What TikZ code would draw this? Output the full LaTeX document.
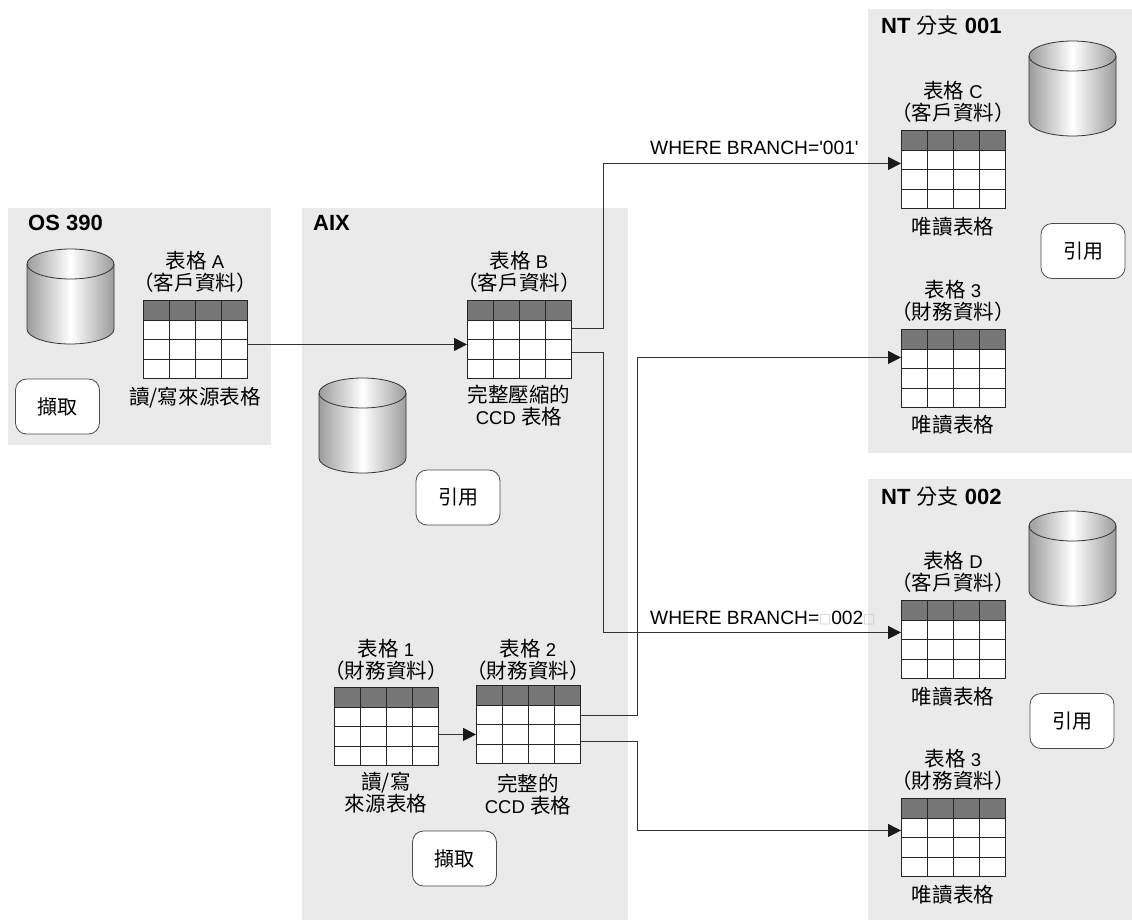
\documentclass[tikz,border=0pt]{standalone}
\usepackage{fontspec}
\setmainfont{Liberation Sans}
\newfontfamily\cjk[Scale=1.11]{Noto Sans CJK TC}
\usetikzlibrary{arrows.meta}

\definecolor{panelgray}{HTML}{EAEAEA}
\definecolor{headgray}{HTML}{777777}
\definecolor{cylgray}{HTML}{9C9C9C}

\tikzset{
    panel/.style={fill=panelgray, draw=none},
    paneltitle/.style={anchor=west, inner sep=0pt, font=\fontsize{22}{26}\selectfont\bfseries},
    tablebox/.style={draw=black!85, fill=white, line width=0.9pt, anchor=north west, minimum width=104pt, minimum height=78pt, inner sep=0pt},
    caption/.style={align=center, font=\fontsize{18.5}{28}\selectfont},
    toolbox/.style={draw=black!70, fill=white, rounded corners=11pt, line width=0.8pt, minimum width=84pt, minimum height=55pt, font=\fontsize{18}{24}\selectfont},
    conn/.style={-{Triangle[length=13pt,width=13pt,color=black!90]}, line width=1pt, black!80},
    wherelabel/.style={anchor=west, inner sep=0pt, font=\fontsize{19.2}{22}\selectfont}
}

% chu Han trong tieu de vung
\newcommand{\titlecjk}[1]{{\fontsize{19}{26}\selectfont\cjk\mdseries #1}}

% o vuong mo trong nhan
\newcommand{\gapmark}{\makebox[12pt]{\fontsize{11}{11}\selectfont\cjk\color{black!30}□}}

% bang du lieu: ten, x trai, y tren
\newcommand{\dbtable}[3]{
    \node[tablebox] (#1) at (#2,#3) {};
    \fill[headgray] (#2,#3) rectangle (#2+104,#3+20);
    \foreach \col in {26,52,78}
        \draw[black!85, line width=0.9pt] (#2+\col,#3) -- (#2+\col,#3+78);
    \foreach \row in {20,39.5,59}
        \draw[black!85, line width=0.9pt] (#2,#3+\row) -- (#2+104,#3+\row);
    \draw[black!85, line width=0.9pt] (#2,#3) rectangle (#2+104,#3+78);
}

% hinh tru: x trai, y tren
\newcommand{\dbdisk}[2]{
    \shade[left color=cylgray, right color=cylgray, middle color=white, draw=black!80, line width=0.8pt]
        (#1,#2+15) -- (#1,#2+80) arc[start angle=180, end angle=0, x radius=43.5, y radius=15]
        -- (#1+87,#2+15) arc[start angle=0, end angle=-180, x radius=43.5, y radius=15] -- cycle;
    \draw[black!80, line width=0.8pt] (#1,#2+15) arc[start angle=180, end angle=0, x radius=43.5, y radius=15];
}

\begin{document}
\begin{tikzpicture}[x=1pt, y=-1pt]
    \useasboundingbox (0,0) rectangle (1132,921);

    % 1. Cac vung nen
    \fill[panel] (8,208) rectangle (271,445);
    \fill[panel] (302,208) rectangle (628,920);
    \fill[panel] (868,9) rectangle (1132,453);
    \fill[panel] (868,479) rectangle (1132,920);

    \node[paneltitle] (osTitle) at (28,223) {OS 390};
    \node[paneltitle] (aixTitle) at (313,223) {AIX};
    \node[paneltitle] (ntOneTitle) at (881,26) {NT \titlecjk{分支} 001};
    \node[paneltitle] (ntTwoTitle) at (881,497) {NT \titlecjk{分支} 002};

    % 2. Hinh tru
    \dbdisk{27}{249}
    \dbdisk{319}{378}
    \dbdisk{1029}{41}
    \dbdisk{1029}{511}

    % 3. Cac bang va nhan
    \dbtable{tabA}{143}{300}
    \node[caption] (capA) at (195,272) {{\cjk 表格} A\\[-6pt]{\cjk （客戶資料）}};
    \node[caption] (noteA) at (195,398) {{\cjk 讀/寫來源表格}};

    \dbtable{tabB}{467}{300}
    \node[caption] (capB) at (519,272) {{\cjk 表格} B\\[-6pt]{\cjk （客戶資料）}};
    \node[caption] (noteB) at (519,406) {{\cjk 完整壓縮的}\\[-6pt]CCD {\cjk 表格}};

    \dbtable{tabOne}{334}{687}
    \node[caption] (capOne) at (386,660) {{\cjk 表格} 1\\[-6pt]{\cjk （財務資料）}};
    \node[caption] (noteOne) at (386,793) {{\cjk 讀/寫}\\[-6pt]{\cjk 來源表格}};

    \dbtable{tabTwo}{476}{685}
    \node[caption] (capTwo) at (528,660) {{\cjk 表格} 2\\[-6pt]{\cjk （財務資料）}};
    \node[caption] (noteTwo) at (528,795) {{\cjk 完整的}\\[-6pt]CCD {\cjk 表格}};

    \dbtable{tabC}{901}{130}
    \node[caption] (capC) at (953,102) {{\cjk 表格} C\\[-6pt]{\cjk （客戶資料）}};
    \node[caption] (noteC) at (953,227) {{\cjk 唯讀表格}};

    \dbtable{tabThreeA}{901}{329}
    \node[caption] (capThreeA) at (953,301) {{\cjk 表格} 3\\[-6pt]{\cjk （財務資料）}};
    \node[caption] (noteThreeA) at (953,425) {{\cjk 唯讀表格}};

    \dbtable{tabD}{901}{600}
    \node[caption] (capD) at (953,572) {{\cjk 表格} D\\[-6pt]{\cjk （客戶資料）}};
    \node[caption] (noteD) at (953,697) {{\cjk 唯讀表格}};

    \dbtable{tabThreeB}{901}{798}
    \node[caption] (capThreeB) at (953,770) {{\cjk 表格} 3\\[-6pt]{\cjk （財務資料）}};
    \node[caption] (noteThreeB) at (953,895) {{\cjk 唯讀表格}};

    % 4. Hop chuong trinh
    \node[toolbox] (capOs) at (57.5,406.5) {\cjk 擷取};
    \node[toolbox] (applyAix) at (458,497.5) {\cjk 引用};
    \node[toolbox] (capAix) at (454.5,858.5) {\cjk 擷取};
    \node[toolbox] (applyOne) at (1083,251) {\cjk 引用};
    \node[toolbox] (applyTwo) at (1072,721) {\cjk 引用};

    % 5. Duong noi
    \draw[conn] ([yshift=-5pt]tabA.east) -- ([yshift=-5pt]tabB.west);
    \draw[conn] ([yshift=11pt]tabB.east) -- ++(32,0) |- ([yshift=6pt]tabC.west);
    \draw[conn] ([yshift=-13pt]tabB.east) -- ++(32,0) |- ([yshift=7pt]tabD.west);
    \draw[conn] ([yshift=-8pt]tabOne.east) -- ([yshift=-10pt]tabTwo.west);
    \draw[conn] ([yshift=9pt]tabTwo.east) -- ++(57,0) |- ([yshift=11pt]tabThreeA.west);
    \draw[conn] ([yshift=-17pt]tabTwo.east) -- ++(57,0) |- ([yshift=7pt]tabThreeB.west);

    % 6. Dieu kien loc
    \node[wherelabel] (whereOne) at (650,148) {WHERE BRANCH=\textquotesingle 001\textquotesingle};
    \node[wherelabel] (whereTwo) at (650,618) {WHERE BRANCH=\gapmark 002\gapmark};
\end{tikzpicture}
\end{document}
